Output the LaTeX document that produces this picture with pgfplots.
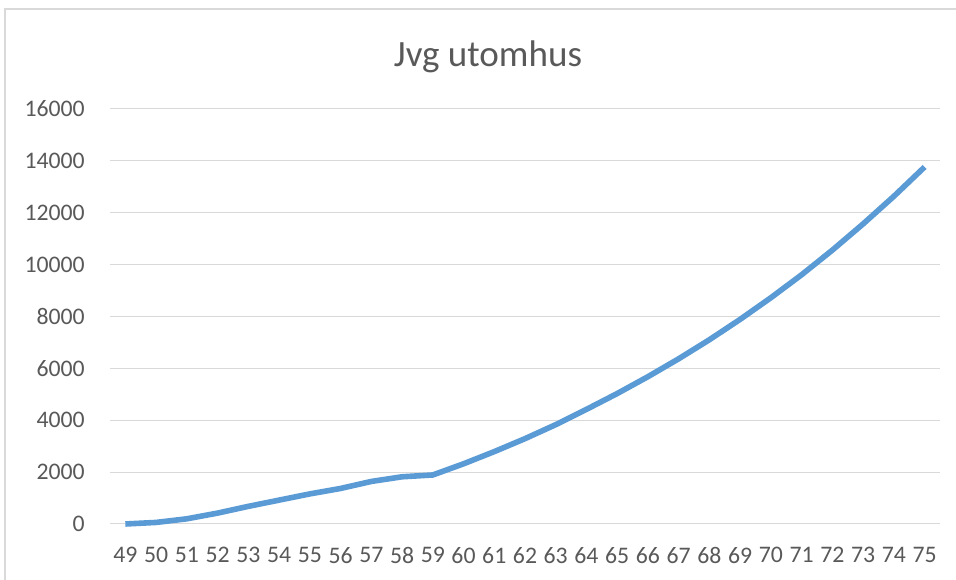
\documentclass[border=0pt]{standalone}
\usepackage{pgfplots}
\pgfplotsset{compat=1.18}
\usepackage{fontspec}
\setmainfont{Carlito}
\definecolor{linec}{HTML}{5B9BD5}
\definecolor{gridc}{HTML}{D9D9D9}
\definecolor{textc}{HTML}{595959}
\begin{document}
\begin{tikzpicture}
\path[use as bounding box] (0pt,0pt) rectangle (717pt,435pt);
\fill[white] (0pt,0pt) rectangle (717pt,435pt);
\draw[gridc, line width=1.1pt] (3.75pt,0pt) -- (3.75pt,428.25pt) -- (717pt,428.25pt);
\begin{axis}[
  at={(82.5pt,42pt)}, anchor=origin,
  scale only axis,
  width=622.5pt, height=311.25pt,
  xmin=48.5, xmax=75.5,
  ymin=0, ymax=16000,
  xtick={49,50,...,75},
  ytick={0,2000,...,16000},
  ymajorgrids,
  grid style={gridc, line width=0.75pt},
  axis line style={draw=none},
  major tick length=0pt,
  /pgf/number format/assume math mode=true,
  scaled y ticks=false,
  yticklabel={\pgfmathprintnumber[fixed,1000 sep={}]{\tick}},
  xticklabel={\pgfmathprintnumber[fixed,1000 sep={}]{\tick}},
  ticklabel style={font=\fontsize{17.8}{20}\selectfont, text=textc},
  yticklabel style={anchor=east, inner sep=0pt, xshift=-18.75pt},
  xticklabel style={anchor=north, inner sep=0pt, yshift=-17.5pt},
  clip=false,
]
\addplot[linec, line width=4.2pt, line join=round] coordinates {
(49,0) (50,60) (51,200) (52,420) (53,680) (54,920) (55,1160) (56,1370)
(57,1640) (58,1820) (59,1890) (60,2320) (61,2790) (62,3290) (63,3830)
(64,4420) (65,5030) (66,5680) (67,6370) (68,7105) (69,7890) (70,8725)
(71,9610) (72,10560) (73,11570) (74,12635) (75,13765)
};
\end{axis}
\node[text=textc, font=\fontsize{27.8}{32}\selectfont, inner sep=0pt, anchor=base] at (366pt,385pt) {Jvg utomhus};
\end{tikzpicture}
\end{document}
